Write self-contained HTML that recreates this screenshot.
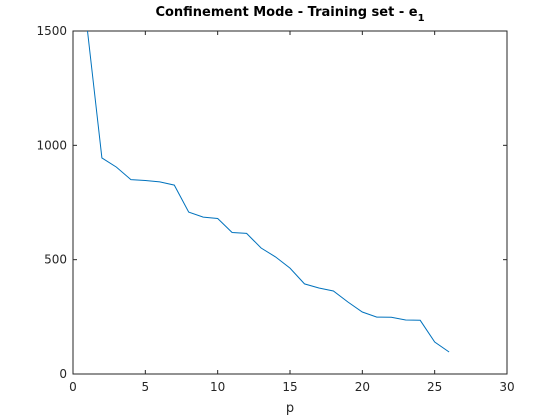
<!DOCTYPE html>
<html><head><meta charset="utf-8"><style>body{margin:0;background:#fff}svg{display:block;font-family:"DejaVu Sans","Liberation Sans",sans-serif}</style></head>
<body>
<svg id="c" width="560" height="420">
<rect width="560" height="420" fill="#fff"/>
<text x="290" y="16" text-anchor="middle" font-size="13" font-weight="bold" fill="#000">Confinement Mode - Training set - e<tspan font-size="10" dy="5">1</tspan></text>
<text x="290" y="412" text-anchor="middle" font-size="13" fill="#262626">p</text>
<g id="axes"></g>
</svg>
<script>
const xTicks=[0,5,10,15,20,25,30];
const yTicks=[0,500,1000,1500];
const pValues=[1,2,3,4,5,6,7,8,9,10,11,12,13,14,15,16,17,18,19,20,21,22,23,24,25,26];
const e1Values=[1500,945,905,850,846,840,826,708,686,680,619,615,551,512,463,394,376,363,315,271,249,248,236,235,140,96];
const L=73,R=507,T=31,B=374;
const sx=v=>L+(v-0)/(30-0)*(R-L);
const sy=v=>B-(v-0)/(1500-0)*(B-T);
const NS='http://www.w3.org/2000/svg';
const g=document.getElementById('axes');
function mk(t,a){const e=document.createElementNS(NS,t);for(const k in a)e.setAttribute(k,a[k]);g.appendChild(e);return e;}
const frame=mk('rect',{x:L,y:T,width:R-L,height:B-T,fill:'none',stroke:'#262626','stroke-width':1});


xTicks.forEach(v=>{const x=sx(v);
 const t1=mk('line',{x1:x,x2:x,y1:B,y2:B-4,stroke:'#262626'});
 
 
 const t2=mk('line',{x1:x,x2:x,y1:T,y2:T+4,stroke:'#262626'});
 
 
 const tx=mk('text',{x:x,y:B+17,'text-anchor':'middle','font-size':12,fill:'#262626'});tx.textContent=v;
 
 
});
yTicks.forEach(v=>{const y=sy(v);
 const t1=mk('line',{x1:L,x2:L+4,y1:y,y2:y,stroke:'#262626'});
 
 
 const t2=mk('line',{x1:R,x2:R-4,y1:y,y2:y,stroke:'#262626'});
 
 
 const tx=mk('text',{x:L-6,y:y+4,'text-anchor':'end','font-size':12,fill:'#262626'});tx.textContent=v;
 
 
});
const pts=pValues.map((p,i)=>sx(p).toFixed(1)+','+sy(e1Values[i]).toFixed(1)).join(' ');
const line=mk('polyline',{points:pts,fill:'none',stroke:'#0072bd','stroke-width':1});


</script>
</body></html>
